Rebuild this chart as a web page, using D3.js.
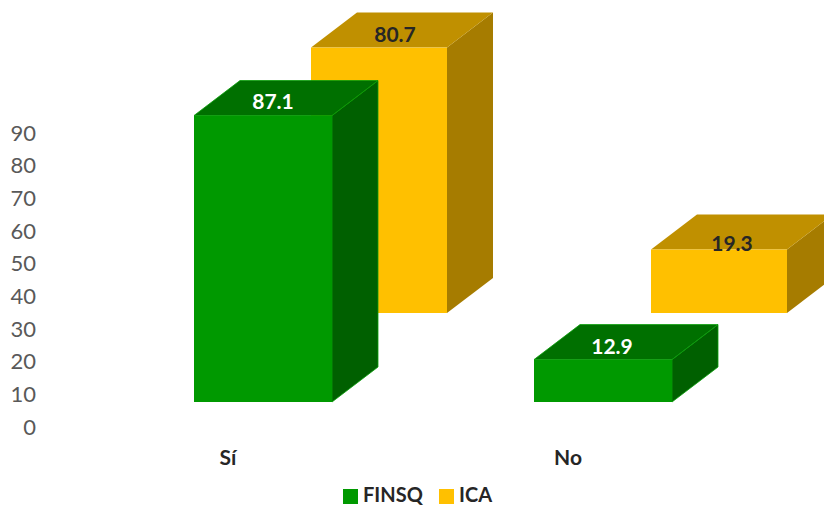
<!DOCTYPE html>
<html>
<head>
<meta charset="utf-8">
<script src="https://cdn.jsdelivr.net/npm/d3@7"></script>
<style>
  html, body { margin: 0; padding: 0; background: #fff; }
  text { font-family: Lato, "Open Sans", sans-serif; }
  .axis path, .axis line { display: none; }
  .axis text { font-size: 22px; fill: #595959; }
</style>
</head>
<body>
<svg id="chart" width="824" height="506"></svg>
<script>
var categories = ["Sí", "No"];
var seriesNames = ["FINSQ", "ICA"];
var finsq = [87.1, 12.9];
var ica = [80.7, 19.3];
var tickValues = [0, 10, 20, 30, 40, 50, 60, 70, 80, 90];

var values = [finsq, ica];
var front = ["#009900", "#ffc000"];
var top3d = ["#007000", "#c09000"];
var side = ["#006000", "#a67c00"];
var edge = ["#0a9f0a", "none"];
var textColor = ["#ffffff", "#262626"];
var floors = [402, 313];
var barWidths = [138, 136];
var depthX = 46, depthY = 35;
// labels were placed by hand in the original, so they are not quite centred
var labelDx = [[79, 78], [84, 81]];
var labelDy = [[-7, -6], [-6, 1]];

var svg = d3.select("#chart");

// value axis sits lower than the bars, like the 3d original
var yAxisScale = d3.scaleLinear().domain([0, 90]).range([427, 133]);
var heightScale = d3.scaleLinear().domain([0, 90]).range([0, 296]);

var xScale = d3.scaleBand().domain(categories).range([194, 874]).paddingInner(0).paddingOuter(0);
var seriesOffset = d3.scaleOrdinal().domain(seriesNames).range([0, 117]);

svg.append("g")
  .attr("class", "axis")
  .attr("transform", "translate(36,0)")
  .call(d3.axisLeft(yAxisScale).tickValues(tickValues).tickSize(0).tickPadding(0));

// yellow series goes behind the green one
[1, 0].forEach(function(s) {
  categories.forEach(function(cat, i) {
    var x0 = xScale(cat) + seriesOffset(seriesNames[s]);
    var x1 = x0 + barWidths[s];
    var y0 = floors[s];
    var y1 = y0 - heightScale(values[s][i]);
    var g = svg.append("g");

    g.append("path")
      .attr("d", d3.line()([[x1, y0], [x1 + depthX, y0 - depthY], [x1 + depthX, y1 - depthY], [x1, y1]]) + "Z")
      .attr("fill", side[s])
      .attr("stroke", edge[s]).attr("stroke-width", 0.8);
    g.append("path")
      .attr("d", d3.line()([[x0, y1], [x0 + depthX, y1 - depthY], [x1 + depthX, y1 - depthY], [x1, y1]]) + "Z")
      .attr("fill", top3d[s])
      .attr("stroke", edge[s]).attr("stroke-width", 0.8);
    g.append("rect")
      .attr("x", x0).attr("y", y1)
      .attr("width", barWidths[s]).attr("height", y0 - y1)
      .attr("fill", front[s]);

    g.append("text")
      .attr("x", x0 + labelDx[s][i])
      .attr("y", y1 + labelDy[s][i])
      .attr("text-anchor", "middle")
      .attr("font-size", 21)
      .attr("font-weight", 700)
      .attr("fill", textColor[s])
      .text(values[s][i].toFixed(1));
  });
});

svg.selectAll(".cat")
  .data(categories)
  .enter().append("text")
  .attr("class", "cat")
  .attr("x", function(d) { return xScale(d) + 34; })
  .attr("y", 465)
  .attr("text-anchor", "middle")
  .attr("font-size", 21)
  .attr("font-weight", 700)
  .attr("fill", "#262626")
  .text(function(d) { return d; });

// legend
var legendX = [343, 439];
seriesNames.forEach(function(name, s) {
  svg.append("rect")
    .attr("x", legendX[s]).attr("y", 489)
    .attr("width", 15).attr("height", 15)
    .attr("fill", front[s]);
  svg.append("text")
    .attr("x", legendX[s] + 20)
    .attr("y", 501.5)
    .attr("font-size", 20)
    .attr("font-weight", 700)
    .attr("fill", "#262626")
    .text(name);
});
</script>
</body>
</html>
